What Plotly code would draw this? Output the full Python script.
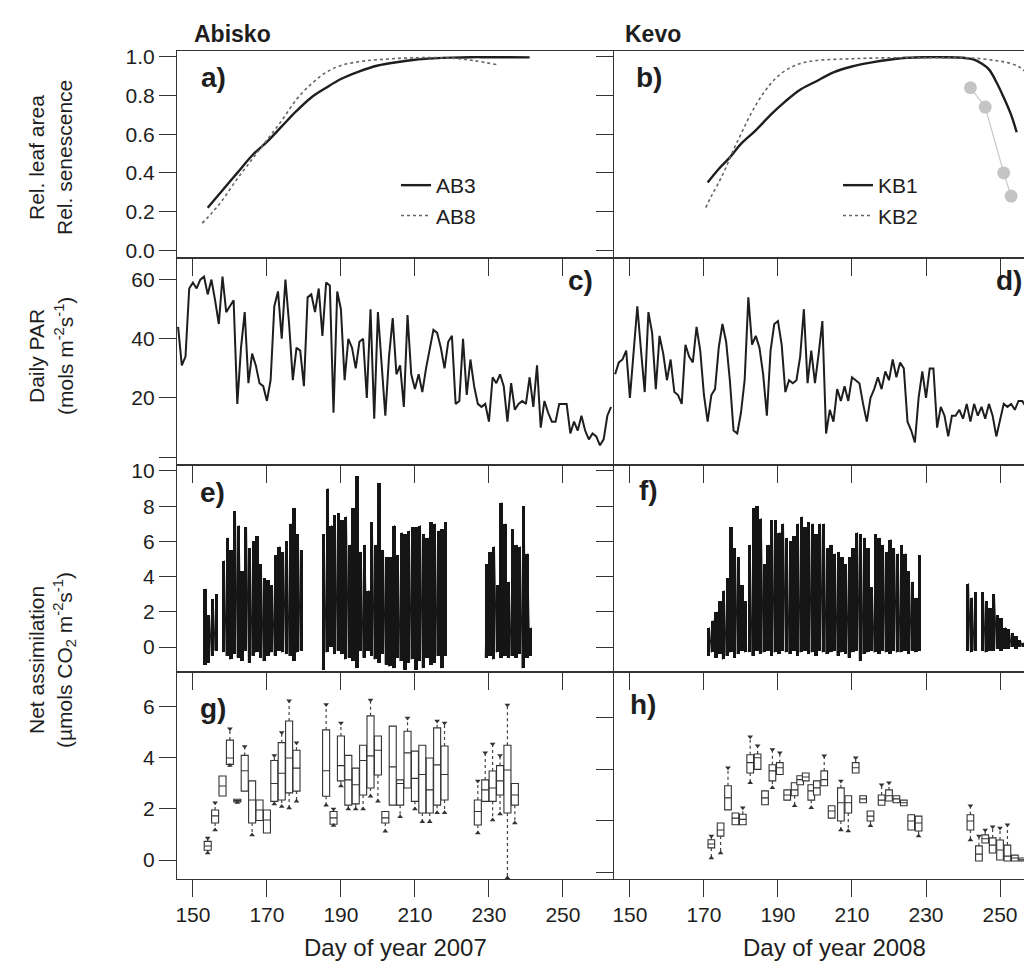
import plotly.graph_objects as go
from plotly.subplots import make_subplots

# ---------------- data ----------------
# a) relative leaf area, Abisko
ab3_day = [154, 158, 162, 166, 170, 174, 178, 182, 186, 190, 195, 200, 205, 210, 215, 220, 225, 230, 235, 241]
ab3_val = [0.22, 0.31, 0.40, 0.49, 0.56, 0.64, 0.72, 0.79, 0.84, 0.885, 0.925, 0.955, 0.972, 0.985, 0.992,
           0.996, 0.998, 0.998, 0.998, 0.997]
ab8_day = [152.5, 155, 158, 162, 166, 170, 174, 178, 182, 186, 190, 195, 200, 210, 220, 226, 232]
ab8_val = [0.14, 0.19, 0.26, 0.37, 0.47, 0.57, 0.67, 0.78, 0.86, 0.92, 0.955, 0.975, 0.985, 0.995, 0.993, 0.98, 0.96]
# b) relative leaf area, Kevo
kb1_day = [171, 174, 177, 180, 184, 188, 192, 196, 200, 205, 210, 215, 220, 225, 230, 235, 240, 243, 245, 247,
           249, 251, 253, 254.5]
kb1_val = [0.35, 0.42, 0.48, 0.55, 0.62, 0.70, 0.77, 0.83, 0.87, 0.92, 0.95, 0.97, 0.985, 0.995, 0.998, 0.998,
           0.995, 0.985, 0.965, 0.935, 0.87, 0.79, 0.70, 0.61]
kb2_day = [170.5, 172, 174, 176, 178, 180, 182, 184, 186, 188, 190, 193, 196, 200, 210, 220, 230, 240, 245, 249,
           252, 255, 257]
kb2_val = [0.22, 0.28, 0.35, 0.43, 0.52, 0.60, 0.68, 0.75, 0.81, 0.86, 0.90, 0.94, 0.965, 0.98, 0.99, 0.995,
           0.995, 0.995, 0.99, 0.98, 0.97, 0.95, 0.92]
sen_day = [242, 246, 251, 253]
sen_val = [0.84, 0.74, 0.40, 0.28]

# c) daily PAR Abisko, days 146..263
c_start = 146
c_par = [44, 31, 34, 57, 59, 57, 60, 61, 55, 60,
         53, 45, 61, 49, 51, 53, 18, 37, 49, 25,
         35, 31, 25, 24, 19, 26, 51, 56, 40, 60,
         45, 26, 37, 36, 24, 54, 55, 49, 57, 41,
         59, 58, 15, 56, 50, 26, 40, 37, 30, 39,
         40, 20, 50, 13, 49, 31, 14, 34, 47, 28,
         31, 17, 48, 28, 23, 28, 22, 30, 36, 43,
         42, 37, 30, 39, 41, 18, 19, 40, 21, 33,
         24, 18, 17, 18, 12, 27, 25, 28, 24, 12,
         25, 16, 18, 19, 18, 27, 17, 31, 10, 19,
         15, 12, 12, 18, 18, 18, 8, 12, 9, 14,
         9, 6, 8, 7, 4, 6, 14, 17]
# d) daily PAR Kevo, days 146..262
d_start = 146
d_par = [28, 32, 33, 36, 20, 35, 51, 36, 22, 49,
         42, 23, 41, 35, 26, 33, 22, 21, 18, 38,
         34, 32, 44, 36, 21, 12, 21, 23, 37, 45,
         39, 26, 9, 8, 15, 26, 54, 38, 41, 37,
         28, 14, 36, 45, 46, 38, 22, 26, 25, 26,
         34, 50, 25, 36, 25, 35, 46, 8, 16, 12,
         23, 19, 24, 19, 27, 26, 25, 18, 12, 20,
         23, 27, 23, 29, 26, 33, 27, 32, 30, 12,
         9, 5, 20, 29, 20, 30, 30, 10, 17, 14,
         7, 14, 14, 16, 13, 18, 12, 18, 14, 17,
         13, 18, 14, 7, 13, 18, 17, 18, 16, 19,
         19, 17, 18, 16, 17, 10, 4]

# e) net assimilation Abisko: daily maximum / minimum
e_days = [153, 154, 155, 156] + list(range(158, 180)) + list(range(185, 219)) + list(range(229, 242))
e_max = [3.3, 1.8, 2.7, 3.0,
         4.9, 6.2, 5.5, 7.7, 6.9, 4.3, 6.8, 5.6, 6.0, 6.3, 4.7, 3.9, 3.8, 3.5, 5.2, 5.7, 5.4, 6.0, 7.0, 7.9, 6.4, 5.5,
         6.4, 9.0, 6.9, 7.5, 7.6, 7.2, 7.4, 5.8, 7.9, 9.7, 5.4, 5.8, 3.2, 7.1, 5.8, 9.3, 5.5, 5.1, 5.1, 6.9,
         5.2, 6.5, 6.4, 6.6, 6.8, 6.8, 6.9, 6.4, 6.2, 7.1, 7.0, 6.6, 6.7, 7.1,
         4.7, 5.4, 5.7, 3.5, 8.2, 7.0, 3.7, 6.7, 5.8, 5.7, 8.0, 5.3, 1.1]
e_min = [-1.0, -0.9, -0.5, -0.2,
         -0.3, -0.5, -0.7, -0.4, -0.6, -0.8, -0.2, -0.9, -0.5, -0.3, -0.6, -0.8, -0.5, -0.3, -0.5, -0.2, -0.3, -0.4,
         -0.5, -0.8, -0.3, -0.2,
         -1.3, -0.3, 0.0, -0.4, -0.2, -0.4, -0.7, -0.6, -0.8, -1.2, -0.2, -0.6, -0.2, -0.5, -0.7, -0.9, -0.4, -1.0,
         -1.1, -1.2, -0.6, -0.8, -1.3, -0.9, -0.7, -1.3, -0.8, -1.2, -0.6, -1.0, -0.9, -0.5, -1.2, -0.5,
         -0.6, -0.5, -0.7, -0.3, -0.6, -0.5, -0.6, -0.5, -0.6, -0.4, -1.2, -0.6, -0.5]
e_breaks = []

# f) net assimilation Kevo: daily maximum / minimum
f_days = list(range(171, 182)) + list(range(182, 228)) + [228] + [241, 242, 243] + list(range(245, 258))
f_max = [1.1, 1.5, 2.0, 2.6, 3.2, 3.9, 6.8, 5.6, 5.1, 3.5, 2.6,
         5.8, 7.9, 8.0, 7.3, 4.7, 5.8, 7.2, 7.2, 6.5, 7.0, 6.2, 6.0, 6.3, 7.0, 7.4, 6.8, 7.1, 7.0, 6.4, 7.0,
         7.0, 5.6, 5.8, 5.3, 5.4, 5.1, 4.7, 5.1, 5.6, 6.5, 6.4, 6.2, 5.6, 3.4, 6.4, 6.2, 5.8, 5.4, 6.1, 5.6,
         5.3, 5.8, 5.3, 4.3, 3.7, 2.8,
         5.2,
         3.6, 2.8, 3.1,
         3.1, 2.6, 2.2, 3.0, 1.8, 1.65, 1.1, 1.0, 0.8, 0.6, 0.4, 0.25, 0.1]
f_min = [-0.5, -0.3, -0.6, -0.4, -0.7, -0.5, -0.3, -0.6, -0.4, -0.2, -0.3,
         -0.3, -0.5, -0.2, -0.4, -0.3, -0.2, -0.5, -0.3, -0.4, -0.2, -0.3, -0.4, -0.2, -0.5, -0.3, -0.2, -0.4,
         -0.3, -0.5, -0.2, -0.3, -0.4, -0.3, -0.2, -0.5, -0.3, -0.4, -0.6, -0.3, -0.2, -0.8, -0.4, -0.3, -0.2,
         -0.3, -0.4, -0.2, -0.3, -0.4, -0.2, -0.3, -0.3, -0.2, -0.4, -0.2, -0.3,
         -0.2,
         -0.2, -0.3, -0.2,
         -0.2, -0.3, -0.2, -0.2, -0.1, -0.2, -0.1, -0.1, 0.0, -0.1, 0.0, 0.0, 0.0]
f_breaks = [171, 182, 228, 241, 245]

# g) boxplots Abisko
g_day = [154, 156, 158, 160, 162, 164, 166, 168, 170, 172, 174, 176, 178,
         186, 188, 190, 192, 194, 196, 198, 200, 202, 204, 206, 208, 210, 212, 214, 216, 218,
         227, 229, 231, 233, 235, 237]
g_q1 = [0.38, 1.45, 2.51, 3.75, 2.28, 2.70, 1.45, 1.55, 1.06, 2.30, 2.35, 2.63, 2.70,
        2.50, 1.40, 3.10, 2.15, 2.20, 2.55, 2.82, 3.33, 1.45, 2.15, 2.15, 2.82, 2.30, 1.84, 1.84, 2.15, 2.35,
        1.37, 2.30, 2.30, 2.55, 1.84, 2.15]
g_med = [0.55, 1.73, 2.90, 4.00, 2.33, 3.50, 2.35, 1.96, 1.57, 3.00, 3.40, 4.00, 3.60,
         3.50, 1.65, 3.70, 3.14, 2.95, 3.90, 4.08, 4.30, 1.65, 3.65, 3.00, 4.20, 3.20, 3.35, 2.75, 3.73, 3.35,
         1.90, 2.75, 2.82, 3.10, 3.53, 2.55]
g_q3 = [0.73, 1.96, 3.29, 4.70, 2.38, 4.10, 3.10, 2.35, 1.96, 3.90, 4.60, 5.45, 4.30,
        5.10, 1.90, 4.86, 4.10, 3.60, 4.50, 5.65, 4.86, 1.90, 5.25, 3.14, 5.05, 4.27, 4.50, 4.00, 5.18, 4.47,
        2.35, 3.14, 3.49, 3.70, 4.50, 3.00]
g_lo = [0.27, 1.18, 2.51, 3.70, 2.25, 2.70, 0.98, 1.55, 1.06, 2.20, 2.10, 2.04, 2.30,
        2.15, 1.35, 2.90, 2.00, 2.00, 2.00, 2.50, 2.30, 1.13, 2.15, 1.70, 2.82, 2.00, 1.50, 1.50, 1.85, 1.85,
        1.06, 2.30, 1.57, 1.80, -0.70, 1.45]
g_hi = [0.86, 2.24, 3.29, 5.15, 2.40, 4.45, 3.10, 2.35, 1.96, 4.10, 5.00, 6.24, 4.60,
        6.10, 2.00, 5.37, 4.10, 3.60, 4.50, 6.27, 4.86, 1.90, 5.25, 3.14, 5.57, 4.27, 4.50, 4.00, 5.45, 5.37,
        3.10, 4.20, 4.55, 4.10, 6.08, 3.00]

# h) boxplots Kevo
h_day = [172, 174.5, 176.5, 178.5, 180.5, 182.5, 184.5, 186.5, 188.5, 190.5, 192.5, 194.5, 196, 197.5, 199,
         200.5, 202.5, 204.5, 207, 209, 211, 213, 215, 218, 220, 222, 224, 226, 228,
         242, 244.3, 246, 248, 250, 252, 254, 256]
h_q1 = [0.94, 1.40, 2.42, 1.84, 1.84, 3.86, 4.00, 2.62, 3.55, 3.80, 2.80, 2.97, 3.40, 3.55, 2.80,
        3.00, 3.36, 2.10, 1.99, 2.30, 3.86, 2.70, 1.99, 2.60, 2.77, 2.70, 2.58, 1.64, 1.60,
        1.64, 0.43, 1.13, 0.74, 0.47, 0.43, 0.43, 0.43]
h_med = [1.09, 1.64, 2.89, 2.10, 2.05, 4.26, 4.45, 2.89, 3.94, 4.06, 3.00, 3.20, 3.60, 3.70, 3.16,
         3.28, 3.60, 2.38, 2.70, 2.70, 4.06, 2.85, 2.18, 2.80, 2.97, 2.85, 2.70, 1.99, 1.91,
         1.99, 0.70, 1.30, 1.05, 0.86, 0.62, 0.55, 0.48]
h_q3 = [1.26, 1.91, 3.36, 2.30, 2.25, 4.57, 4.60, 3.16, 4.18, 4.26, 3.20, 3.48, 3.75, 3.86, 3.40,
        3.55, 3.94, 2.58, 3.28, 2.97, 4.26, 2.97, 2.38, 3.00, 3.20, 2.97, 2.80, 2.23, 2.18,
        2.23, 1.02, 1.45, 1.33, 1.25, 1.05, 0.66, 0.55]
h_lo = [0.55, 0.74, 2.42, 1.84, 1.84, 3.48, 4.00, 2.62, 3.28, 3.80, 2.80, 2.58, 3.40, 3.55, 2.50,
        3.00, 3.36, 2.10, 1.64, 1.60, 3.86, 2.70, 1.80, 2.60, 2.77, 2.70, 2.58, 1.64, 1.40,
        1.25, 0.43, 1.13, 0.74, 0.47, 0.43, 0.43, 0.43]
h_hi = [1.40, 1.91, 4.06, 2.30, 2.50, 5.27, 4.92, 3.16, 4.77, 4.65, 3.20, 3.48, 3.75, 3.86, 3.40,
        3.55, 4.53, 2.58, 3.55, 2.97, 4.45, 2.97, 2.38, 3.40, 3.48, 2.97, 2.80, 2.23, 2.18,
        2.58, 1.40, 1.64, 1.76, 1.72, 1.84, 0.66, 0.55]

x_ticks = [150, 170, 190, 210, 230, 250]
titles = ["Abisko", "Kevo"]
panel_letters = ["a)", "b)", "c)", "d)", "e)", "f)", "g)", "h)"]

# ---------------- styling ----------------
FONT = "Liberation Sans, Arial, Helvetica, sans-serif"
INK = "#1e1e1e"
W, H = 1032, 972
ML, MR, MT, MB = 169, 0, 43, 101
PW, PH = W - ML - MR, H - MT - MB


def px(x):
    return (x - ML) / PW


def py(y):
    return (H - MB - y) / PH


fig = make_subplots(rows=4, cols=2, column_widths=[437, 426],
                    horizontal_spacing=0, vertical_spacing=0)


def zigzag(days, vmax, vmin, breaks=()):
    xs, ys = [], []
    prev = None
    for d, hi, lo in zip(days, vmax, vmin):
        if prev is not None and (d - prev > 1 or d in breaks):
            xs.append(None)
            ys.append(None)
        xs += [d, d + 0.5]
        ys += [lo, hi]
        prev = d
    return xs, ys


def add_dense(days, vmax, vmin, breaks, row, col):
    fig.add_trace(go.Bar(x=[d + 0.3 for d in days], y=[h - l for h, l in zip(vmax, vmin)], base=vmin,
                         width=0.9, marker=dict(color="#151515", line=dict(width=0)),
                         showlegend=False, hoverinfo="skip"), row=row, col=col)
    xs, ys = zigzag(days, vmax, vmin, breaks)
    fig.add_trace(go.Scatter(x=xs, y=ys, mode="lines", showlegend=False, hoverinfo="skip",
                             line=dict(color="#151515", width=1.0)), row=row, col=col)


def add_boxes(days, q1, med, q3, lo, hi, row, col, width):
    wx, wy, ux, uy, lx, ly = [], [], [], [], [], []
    for d, a, b, l, h in zip(days, q1, q3, lo, hi):
        if h > b + 0.02:
            wx += [d, d, None]
            wy += [b, h, None]
            ux.append(d)
            uy.append(h)
        if l < a - 0.02:
            wx += [d, d, None]
            wy += [a, l, None]
            lx.append(d)
            ly.append(l)
    fig.add_trace(go.Scatter(x=wx, y=wy, mode="lines", showlegend=False, hoverinfo="skip",
                             line=dict(color="#444", width=1.2, dash="dot")), row=row, col=col)
    fig.add_trace(go.Scatter(x=ux, y=uy, mode="markers", showlegend=False, hoverinfo="skip",
                             marker=dict(symbol="triangle-down", size=5, color="#333")), row=row, col=col)
    fig.add_trace(go.Scatter(x=lx, y=ly, mode="markers", showlegend=False, hoverinfo="skip",
                             marker=dict(symbol="triangle-up", size=5, color="#333")), row=row, col=col)
    fig.add_trace(go.Box(x=days, q1=q1, median=med, q3=q3, lowerfence=q1, upperfence=q3,
                         width=width, boxpoints=False, whiskerwidth=0, showlegend=False,
                         fillcolor="white", line=dict(color="#333", width=1.1)), row=row, col=col)


# a)
fig.add_trace(go.Scatter(x=ab3_day, y=ab3_val, mode="lines", name="AB3", legend="legend",
                         legendgroup="ab3", line=dict(color=INK, width=2.4, shape="spline")), row=1, col=1)
fig.add_trace(go.Scatter(x=ab8_day, y=ab8_val, mode="lines", name="AB8", legend="legend",
                         legendgroup="ab8", line=dict(color="#666", width=1.6, dash="dot", shape="spline")),
              row=1, col=1)
# b)
fig.add_trace(go.Scatter(x=sen_day, y=sen_val, mode="lines+markers", showlegend=False,
                         line=dict(color="#c8c8c8", width=1.2),
                         marker=dict(size=13, color="#c4c4c4")), row=1, col=2)
fig.add_trace(go.Scatter(x=kb1_day, y=kb1_val, mode="lines", name="KB1", legend="legend2",
                         legendgroup="kb1", line=dict(color=INK, width=2.4, shape="spline")), row=1, col=2)
fig.add_trace(go.Scatter(x=kb2_day, y=kb2_val, mode="lines", name="KB2", legend="legend2",
                         legendgroup="kb2", line=dict(color="#666", width=1.6, dash="dot", shape="spline")),
              row=1, col=2)
# c), d)
fig.add_trace(go.Scatter(x=[c_start + i for i in range(len(c_par))], y=c_par, mode="lines", showlegend=False,
                         line=dict(color=INK, width=2)), row=2, col=1)
fig.add_trace(go.Scatter(x=[d_start + i for i in range(len(d_par))], y=d_par, mode="lines", showlegend=False,
                         line=dict(color=INK, width=2)), row=2, col=2)
# e), f)
add_dense(e_days, e_max, e_min, e_breaks, 3, 1)
add_dense(f_days, f_max, f_min, f_breaks, 3, 2)
# g), h)
add_boxes(g_day, g_q1, g_med, g_q3, g_lo, g_hi, 4, 1, 1.9)
add_boxes(h_day, h_q1, h_med, h_q3, h_lo, h_hi, 4, 2, 1.8)

# ---------------- axes ----------------
y_ranges = {1: [-0.04, 1.03], 2: [-2.65, 67.3], 3: [-1.42, 10.34], 4: [-0.745, 7.37]}
y_ticks = {1: [0, 0.2, 0.4, 0.6, 0.8, 1.0], 2: [20, 40, 60], 3: [0, 2, 4, 6, 8, 10], 4: [0, 2, 4, 6]}
y_text = {1: ["0.0", "0.2", "0.4", "0.6", "0.8", "1.0"], 2: ["20", "40", "60"],
          3: ["0", "2", "4", "6", "8", "10"], 4: ["0", "2", "4", "6"]}
TFS = 21
tickfont = dict(family=FONT, size=TFS, color=INK)
common = dict(showgrid=False, zeroline=False, showline=True, linecolor="#333", linewidth=1.2,
              tickcolor="#333", tickwidth=1.3, ticklen=17, tickfont=tickfont)
for r in range(1, 5):
    for c in (1, 2):
        xr = [145.7, 263.8] if c == 1 else [145.7, 260.8]
        fig.update_xaxes(range=xr, tickvals=x_ticks, ticks="outside", mirror=True,
                         showticklabels=(r == 4), row=r, col=c, **common)
        yr = y_ranges[r]
        if r == 4 and c == 2:
            yr = [-0.27, 7.79]
        extra = {}
        if r == 2 and c == 1:
            # the 0 tick of the PAR axis is drawn without a label
            extra = dict(minor=dict(tickvals=[0], ticks="outside", ticklen=17, tickcolor="#333", tickwidth=1.3))
        fig.update_yaxes(range=yr, tickvals=y_ticks[r], ticktext=y_text[r],
                         ticks=("" if (r == 2 and c == 2) else "outside"),
                         mirror=False, showticklabels=(c == 1), row=r, col=c, **common, **extra)

# ---------------- text ----------------
ann = []


def text(s, x, y, size=19, bold=False, angle=0, xanchor="center"):
    ann.append(dict(text=("<b>%s</b>" % s) if bold else s, x=px(x), y=py(y), xref="paper", yref="paper",
                    showarrow=False, textangle=angle, xanchor=xanchor, yanchor="middle",
                    font=dict(family=FONT, size=size, color=INK)))


text(titles[0], 184, 26, size=23, bold=True, xanchor="left")
text(titles[1], 615, 26, size=23, bold=True, xanchor="left")
letter_pos = [(205, 69), (641, 69), (572, 272), (1001, 272), (204, 485), (640, 483), (205, 700), (635, 696)]
for s, (x, y) in zip(panel_letters, letter_pos):
    text(s, x, y, size=28, bold=True)
text("Rel. leaf area", 28, 150, size=21, angle=-90)
text("Rel. senescence", 56, 150, size=21, angle=-90)
text("Daily PAR", 28, 348, size=21, angle=-90)
text("(mols m<sup>-2</sup>s<sup>-1</sup>)", 56, 348, size=21, angle=-90)
text("Net assimilation", 28, 652, size=21, angle=-90)
text("(µmols CO<sub>2</sub> m<sup>-2</sup>s<sup>-1</sup>)", 56, 652, size=21, angle=-90)
text("Day of year 2007", 387, 940, size=24)
text("Day of year 2008", 826, 940, size=24)

legend_style = dict(bgcolor="rgba(0,0,0,0)", borderwidth=0, font=dict(family=FONT, size=TFS, color=INK),
                    xanchor="left", yanchor="top", tracegroupgap=0, itemwidth=30)
fig.update_layout(
    width=W, height=H, margin=dict(l=ML, r=MR, t=MT, b=MB),
    paper_bgcolor="white", plot_bgcolor="white",
    font=dict(family=FONT, color=INK),
    annotations=ann, showlegend=True, bargap=0,
    legend=dict(x=px(388), y=py(157), **legend_style),
    legend2=dict(x=px(830), y=py(157), **legend_style),
)

fig.write_html("out.html")
